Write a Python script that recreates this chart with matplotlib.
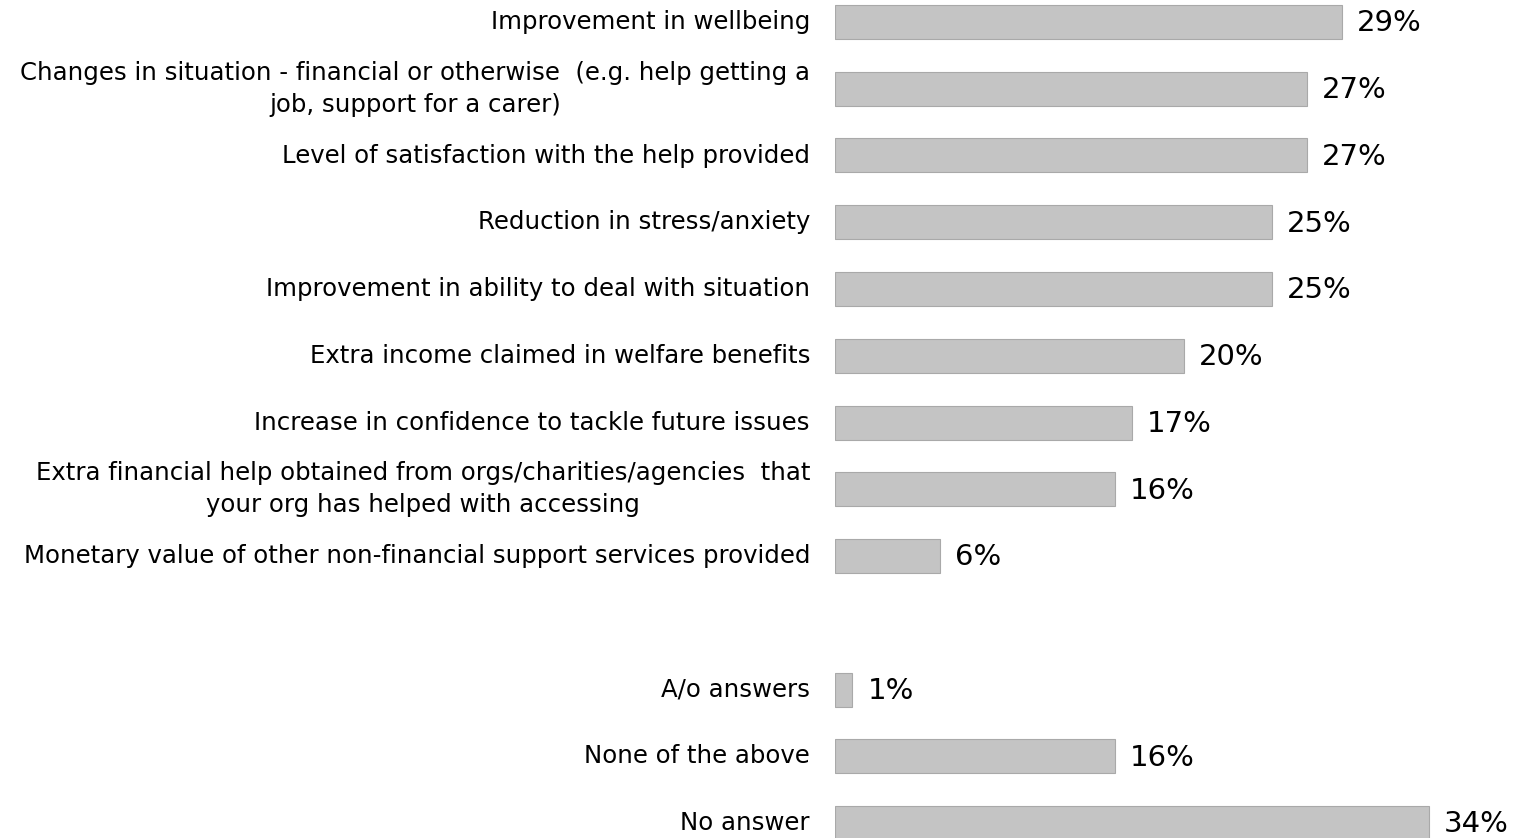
import matplotlib
matplotlib.use("Agg")
import matplotlib.pyplot as plt

# rows top to bottom; None marks the blank gap row
labels = [
    "Improvement in wellbeing",
    "Changes in situation - financial or otherwise  (e.g. help getting a\njob, support for a carer)",
    "Level of satisfaction with the help provided",
    "Reduction in stress/anxiety",
    "Improvement in ability to deal with situation",
    "Extra income claimed in welfare benefits",
    "Increase in confidence to tackle future issues",
    "Extra financial help obtained from orgs/charities/agencies  that\nyour org has helped with accessing",
    "Monetary value of other non-financial support services provided",
    None,
    "A/o answers",
    "None of the above",
    "No answer",
]
values = [29, 27, 27, 25, 25, 20, 17, 16, 6, None, 1, 16, 34]

W, H = 1514, 838
fig = plt.figure(figsize=(W / 100, H / 100), dpi=100)
ax = fig.add_axes([835 / W, 0, (W - 835) / W, 1])

row_px = 66.75
pos = [i for i, v in enumerate(values) if v is not None]
vals = [values[i] for i in pos]
labs = [labels[i] for i in pos]

ax.barh(pos, vals, height=34 / row_px, color="#c4c4c4",
        edgecolor="#a9a9a9", linewidth=0.8)
for y, v in zip(pos, vals):
    ax.text(v + 0.85, y + 0.02, f"{v}%", va="center", ha="left",
            fontsize=21, color="black")

ax.set_xlim(0, (W - 835) / 17.47)
ax.set_ylim(12 + 15 / row_px, -22 / row_px)
ax.set_yticks(pos)
ax.set_yticklabels(labs, fontsize=17.6, multialignment="center",
                   linespacing=1.4, va="center")
ax.tick_params(axis="y", length=0, pad=18)
ax.set_xticks([])
for s in ax.spines.values():
    s.set_visible(False)

fig.savefig("out.png", dpi=100)
